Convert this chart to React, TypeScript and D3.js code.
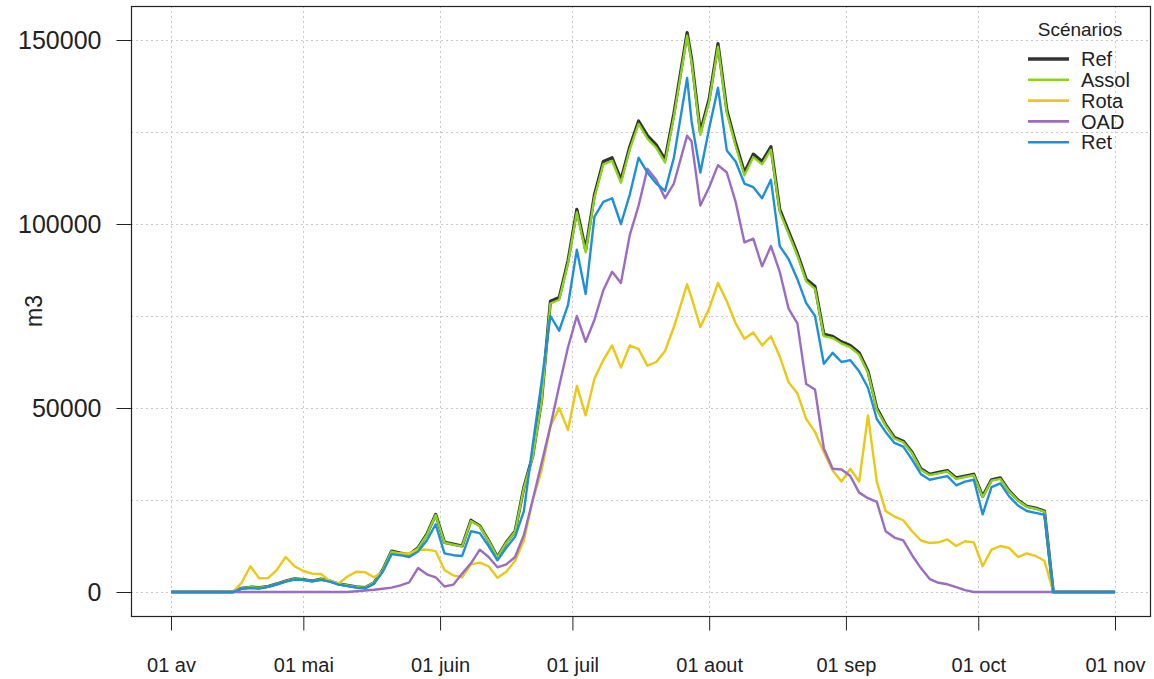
import { useEffect, useRef } from "react";
import * as d3 from "d3";

// day offsets from 1 April (every 2 days, 117 used for the late-July peak)
const days = [
  0, 2, 4, 6, 8, 10, 12, 14,
  16, 18, 20, 22, 24, 26, 28, 30, 32, 34,
  36, 38, 40, 42, 44, 46, 48, 50, 52, 54,
  56, 58, 60, 62, 64, 66, 68, 70, 72, 74,
  76, 78, 80, 82, 84, 86, 88, 90, 92, 94,
  96, 98, 100, 102, 104, 106, 108, 110, 112, 114,
  117, 118, 120, 122, 124, 126, 128, 130, 132, 134,
  136, 138, 140, 142, 144, 146, 148, 150, 152, 154,
  156, 158, 160, 162, 164, 166, 168, 170, 172, 174,
  176, 178, 180, 182, 184, 186, 188, 190, 192, 194,
  196, 198, 200, 202, 204, 206, 208, 210, 212, 214,
];

const refVals = [
  0, 0, 0, 0, 0, 0, 0, 0,
  1000, 1300, 1200, 1500, 2200, 3000, 3600, 3400, 3000, 3500,
  3000, 2200, 1800, 1400, 1200, 2500, 6000, 11100, 10600, 10200,
  12000, 15700, 21100, 13500, 13000, 12500, 19500, 18000, 14000, 9500,
  13500, 16500, 28500, 37000, 52000, 79000, 80000, 90000, 104000, 93000,
  108000, 117000, 118000, 112000, 121000, 128000, 124000, 121500, 117500, 130000,
  152000, 145000, 125000, 134000, 149000, 131000, 122000, 114000, 119000, 117000,
  121000, 104000, 98000, 92000, 85000, 83000, 70000, 69500, 68000, 67000,
  65000, 60000, 50000, 45500, 42000, 41000, 38000, 33500, 32000, 32500,
  33000, 31000, 31500, 32000, 26000, 30500, 31000, 27500, 25000, 23300,
  22800, 22000, 0, 0, 0, 0, 0, 0, 0, 0,
];

const assolVals = [
  0, 0, 0, 0, 0, 0, 0, 0,
  990, 1290, 1190, 1490, 2180, 2980, 3570, 3380, 2980, 3470,
  2980, 2180, 1790, 1390, 1190, 2480, 5950, 11000, 10500, 10100,
  11900, 15550, 20900, 13400, 12900, 12400, 19300, 17850, 13900, 9420,
  13400, 16350, 28250, 36700, 51600, 78400, 79400, 89300, 103200, 92300,
  107200, 116200, 117200, 111200, 120200, 127200, 123200, 120700, 116700, 129100,
  151200, 144100, 124200, 133200, 148200, 130200, 121200, 113200, 118200, 116200,
  120200, 103300, 97300, 91400, 84400, 82400, 69500, 69000, 67500, 66500,
  64500, 59600, 49600, 45200, 41700, 40700, 37700, 33200, 31750, 32250,
  32750, 30750, 31250, 31750, 25800, 30250, 30750, 27300, 24800, 23150,
  22650, 21850, 0, 0, 0, 0, 0, 0, 0, 0,
];

const rotaVals = [
  0, 0, 0, 0, 0, 0, 0, 0,
  2500, 7000, 3700, 3800, 6000, 9500, 7000, 5700, 5000, 4900,
  3000, 2300, 4200, 5500, 5400, 4000, 5500, 10300, 10500, 10500,
  11500, 11500, 11100, 6000, 4500, 4000, 7500, 8000, 7000, 3900,
  5500, 8500, 14000, 25000, 33000, 45000, 50000, 44000, 56000, 48000,
  58000, 63000, 67000, 61000, 67000, 66000, 61500, 62500, 65500, 72000,
  83600, 80000, 72000, 77000, 84000, 79000, 73000, 68800, 70500, 67000,
  69500, 64000, 57000, 54000, 47000, 43500, 38000, 33000, 30000, 33500,
  30000, 48000, 30000, 22000, 20500, 19500, 16500, 14000, 13300, 13500,
  14300, 12500, 13800, 13500, 7000, 11500, 12500, 12000, 9500, 10500,
  9800, 8500, 0, 0, 0, 0, 0, 0, 0, 0,
];

const oadVals = [
  0, 0, 0, 0, 0, 0, 0, 0,
  0, 0, 0, 0, 0, 0, 0, 0, 0, 0,
  0, 0, 0, 200, 400, 600, 900, 1200, 1800, 2600,
  6500, 4800, 4000, 1500, 2000, 5000, 7800, 11500, 9500, 6700,
  7500, 9500, 15500, 25000, 35000, 45000, 56000, 66500, 75000, 68000,
  74000, 82000, 87000, 84000, 97000, 105000, 115000, 112000, 107000, 111000,
  124000, 122500, 105000, 110000, 116000, 114000, 106000, 95000, 96000, 88500,
  94000, 87000, 77000, 73000, 56500, 55000, 39000, 33500, 33300, 31500,
  27000, 25500, 24500, 16500, 14800, 14000, 10000, 6500, 3500, 2500,
  2100, 1300, 500, 0, 0, 0, 0, 0, 0, 0,
  0, 0, 0, 0, 0, 0, 0, 0, 0, 0,
];

const retVals = [
  0, 0, 0, 0, 0, 0, 0, 0,
  900, 1100, 900, 1400, 2100, 2800, 3400, 3300, 2900, 3300,
  2800, 2000, 1600, 1200, 1000, 2200, 5500, 10300, 10000, 9500,
  11000, 14000, 18400, 10500, 10000, 9800, 16500, 16000, 12500, 8600,
  12000, 15000, 22000, 40000, 57000, 75000, 71000, 78000, 93000, 81000,
  102000, 106000, 107000, 100000, 108000, 118000, 114000, 111000, 109000, 118000,
  139700, 128000, 114000, 126000, 137000, 120000, 117000, 111000, 110000, 107000,
  112000, 94000, 90500, 85000, 78500, 75000, 62000, 65000, 62500, 63000,
  60000, 55500, 47000, 43500, 40500, 39500, 36000, 32000, 30500, 31000,
  31500, 29000, 30000, 30500, 21100, 28500, 29500, 26000, 23500, 22000,
  21500, 21000, 0, 0, 0, 0, 0, 0, 0, 0,
];

const seriesNames = ["Ref", "Assol", "Rota", "OAD", "Ret"];
const seriesValues = [refVals, assolVals, rotaVals, oadVals, retVals];
const seriesColors = ["#333333", "#8bd41c", "#ebc816", "#9a6cc2", "#1f90d8"];
const seriesWidths = [3.2, 2.3, 2.4, 2.4, 2.4];

const monthOffsets = [0, 30, 61, 91, 122, 153, 183, 214];
const monthLabels = ["01 av", "01 mai", "01 juin", "01 juil", "01 aout", "01 sep", "01 oct", "01 nov"];
const yTicks = [0, 50000, 100000, 150000];
const yGrid = [0, 25000, 50000, 75000, 100000, 125000, 150000];

const FONT = "'Liberation Sans', Arial, sans-serif";

export default function App() {
  const svgRef = useRef<SVGSVGElement>(null);

  useEffect(() => {
    if (!svgRef.current) return;
    const svg = d3.select(svgRef.current);
    svg.selectAll("*").remove();

    const width = 1154;
    const height = 679;
    const box = { left: 131, right: 1150, top: 6, bottom: 616 };

    const start = new Date(2019, 3, 1);
    const toDate = (d: number) => d3.timeDay.offset(start, d);

    const x = d3.scaleTime()
      .domain([toDate(0), toDate(214)])
      .range([171, 1115]);
    const y = d3.scaleLinear()
      .domain([0, 150000])
      .range([592, 40]);

    svg.attr("width", width).attr("height", height);
    svg.append("rect").attr("width", width).attr("height", height).attr("fill", "#fff");

    // grid
    const grid = svg.append("g")
      .attr("stroke", "#c8c8c8")
      .attr("stroke-width", 1)
      .attr("stroke-dasharray", "2,3");
    grid.selectAll("line.h")
      .data(yGrid)
      .join("line")
      .attr("class", "h")
      .attr("x1", box.left)
      .attr("x2", box.right)
      .attr("y1", d => Math.round(y(d)) + 0.5)
      .attr("y2", d => Math.round(y(d)) + 0.5);
    grid.selectAll("line.v")
      .data(monthOffsets)
      .join("line")
      .attr("class", "v")
      .attr("y1", box.top)
      .attr("y2", box.bottom)
      .attr("x1", d => Math.round(x(toDate(d))) + 0.5)
      .attr("x2", d => Math.round(x(toDate(d))) + 0.5);

    // lines, Ref first so the others sit on top of it
    const line = d3.line<number>()
      .x((_, i) => x(toDate(days[i])))
      .y(v => y(v));

    svg.append("g")
      .selectAll("path")
      .data(seriesValues)
      .join("path")
      .attr("d", v => line(v))
      .attr("fill", "none")
      .attr("stroke", (_, i) => seriesColors[i])
      .attr("stroke-width", (_, i) => seriesWidths[i])
      .attr("stroke-linejoin", "round");

    // box
    svg.append("rect")
      .attr("x", box.left + 0.5)
      .attr("y", box.top + 0.5)
      .attr("width", box.right - box.left)
      .attr("height", box.bottom - box.top)
      .attr("fill", "none")
      .attr("stroke", "#222")
      .attr("stroke-width", 1.2);

    // x axis
    const xAxis = svg.append("g")
      .attr("transform", `translate(0,${box.bottom + 0.5})`)
      .call(
        d3.axisBottom(x)
          .tickValues(monthOffsets.map(toDate))
          .tickFormat((_, i) => monthLabels[i])
          .tickSize(14)
          .tickSizeOuter(0)
          .tickPadding(27)
      );
    xAxis.select(".domain").remove();
    xAxis.selectAll("line").attr("stroke", "#222");
    xAxis.selectAll("text")
      .attr("fill", "#222")
      .style("font-family", FONT)
      .style("font-size", "20px");

    // y axis
    const yAxis = svg.append("g")
      .attr("transform", `translate(${box.left + 0.5},0)`)
      .call(
        d3.axisLeft(y)
          .tickValues(yTicks)
          .tickFormat(d => String(d))
          .tickSize(15)
          .tickSizeOuter(0)
          .tickPadding(15)
      );
    yAxis.select(".domain").remove();
    yAxis.selectAll("line").attr("stroke", "#222");
    yAxis.selectAll("text")
      .attr("fill", "#222")
      .style("font-family", FONT)
      .style("font-size", "25px");

    svg.append("text")
      .attr("transform", `translate(42,${(box.top + box.bottom) / 2}) rotate(-90)`)
      .attr("text-anchor", "middle")
      .attr("fill", "#222")
      .style("font-family", FONT)
      .style("font-size", "23px")
      .text("m3");

    // legend
    const legend = svg.append("g");
    legend.append("text")
      .attr("x", 1080)
      .attr("y", 36)
      .attr("text-anchor", "middle")
      .attr("fill", "#222")
      .style("font-family", FONT)
      .style("font-size", "19px")
      .text("Scénarios");
    const rows = legend.selectAll("g.row")
      .data(seriesNames)
      .join("g")
      .attr("class", "row")
      .attr("transform", (_, i) => `translate(0,${59 + i * 20.8})`);
    rows.append("line")
      .attr("x1", 1028)
      .attr("x2", 1069)
      .attr("stroke", (_, i) => seriesColors[i])
      .attr("stroke-width", (_, i) => (i === 0 ? 3.5 : 2.6));
    rows.append("text")
      .attr("x", 1081)
      .attr("dy", "0.36em")
      .attr("fill", "#222")
      .style("font-family", FONT)
      .style("font-size", "20px")
      .text(d => d);
  }, []);

  return (
    <>
      <style>{"body{margin:0;background:#fff}"}</style>
      <svg ref={svgRef} width={1154} height={679} />
    </>
  );
}
